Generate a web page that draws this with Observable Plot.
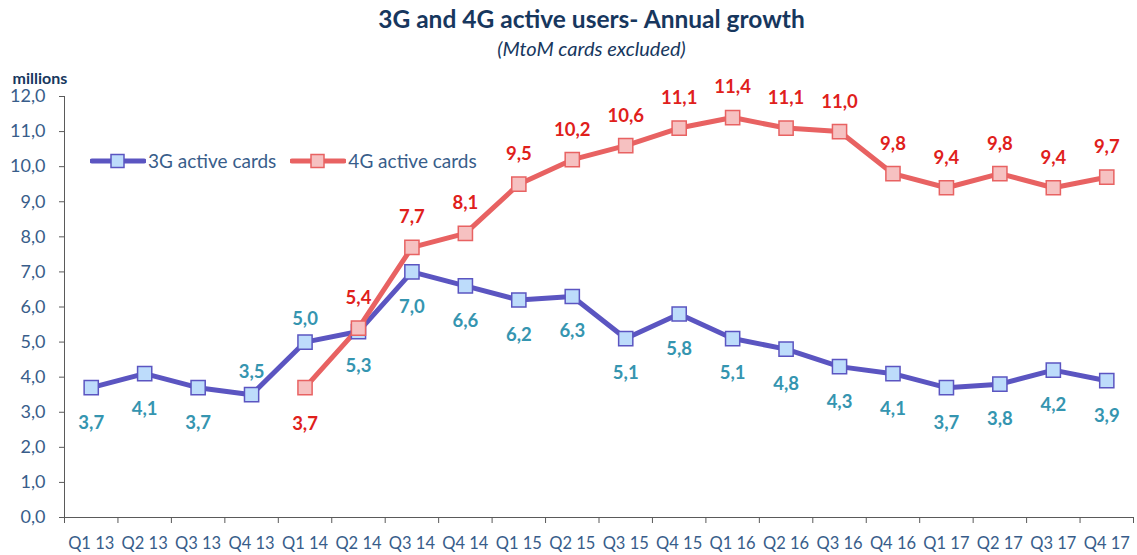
<!DOCTYPE html>
<html>
<head>
<meta charset="utf-8">
<script src="https://cdn.jsdelivr.net/npm/d3@7"></script>
<script src="https://cdn.jsdelivr.net/npm/@observablehq/plot@0.6"></script>
<style>
  body { margin: 0; background: #fff; font-family: Lato, "Open Sans", sans-serif; }
  #wrap { width: 1137px; }
  #head { height: 62px; text-align: center; color: #17375e; position: relative; }
  #title { position: absolute; left: 46px; right: 0; top: 4px; font-weight: bold; font-size: 24.5px; line-height: 30px; }
  #sub { position: absolute; left: 46px; right: 0; top: 36px; font-style: italic; font-size: 20px; line-height: 24px; }
  #chart { position: relative; height: 493px; }
  #legend { position: absolute; left: 90px; top: 87px; display: flex; align-items: center; font-size: 19px; color: #385d8a; }
  .item { display: flex; align-items: center; }
  .item svg { margin-right: 2px; }
</style>
</head>
<body>
<div id="wrap">
  <div id="head">
    <div id="title">3G and 4G active users- Annual growth</div>
    <div id="sub">(MtoM cards excluded)</div>
  </div>
  <div id="chart"></div>
</div>
<script>
const quarters = ["Q1 13","Q2 13","Q3 13","Q4 13","Q1 14","Q2 14","Q3 14","Q4 14","Q1 15","Q2 15",
                  "Q3 15","Q4 15","Q1 16","Q2 16","Q3 16","Q4 16","Q1 17","Q2 17","Q3 17","Q4 17"];
const active3G = [3.7, 4.1, 3.7, 3.5, 5.0, 5.3, 7.0, 6.6, 6.2, 6.3, 5.1, 5.8, 5.1, 4.8, 4.3, 4.1, 3.7, 3.8, 4.2, 3.9];
const quarters4G = quarters.slice(4);
const active4G = [3.7, 5.4, 7.7, 8.1, 9.5, 10.2, 10.6, 11.1, 11.4, 11.1, 11.0, 9.8, 9.4, 9.8, 9.4, 9.7];
const labelsAbove3G = ["Q4 13", "Q1 14"];
const labelsBelow4G = ["Q1 14"];
const yTicks = [0,1,2,3,4,5,6,7,8,9,10,11,12];
const seriesNames = ["3G active cards", "4G active cards"];

const c3 = {line: "#5b55c1", fill: "#bddcfb", label: "#3595b0"};
const c4 = {line: "#e86262", fill: "#f6c1c1", label: "#e0201b"};
const tickColor = "#385d8a";
const axisGray = "#5a5a5a";

const rows3 = quarters.map((q, i) => ({q, i, v: active3G[i]}));
const rows4 = quarters4G.map((q, j) => ({q, i: quarters.indexOf(q), v: active4G[j]}));
const fmt = v => v.toFixed(1).replace(".", ",");
const bounds = d3.range(quarters.length + 1).map(k => k - 0.5);

const labelFont = {fontSize: 18.5, fontWeight: "bold"};

const plot = Plot.plot({
  width: 1137,
  height: 493,
  marginLeft: 64,
  marginRight: 4,
  marginTop: 34,
  marginBottom: 38,
  style: {fontFamily: "Lato, 'Open Sans', sans-serif", background: "#fff", overflow: "visible"},
  x: {type: "linear", domain: [-0.5, quarters.length - 0.5]},
  y: {domain: [0, 12]},
  marks: [
    Plot.ruleX([-0.5], {y1: 0, y2: 12, stroke: axisGray}),
    Plot.axisY(yTicks, {tickSize: 5, tickFormat: () => "", stroke: axisGray, label: null}),
    Plot.axisY(yTicks, {tickSize: 0, tickPadding: 19, tickFormat: fmt, fill: tickColor, fontSize: 18, label: null}),
    Plot.ruleY([0], {stroke: axisGray}),
    Plot.axisX(bounds, {tickSize: 6, tickFormat: () => "", stroke: axisGray, label: null}),
    Plot.axisX(d3.range(quarters.length), {tickSize: 0, tickPadding: 20, tickFormat: i => quarters[i], fill: tickColor, fontSize: 16.5, label: null}),
    Plot.text(["millions"], {frameAnchor: "top-left", lineAnchor: "middle", dx: -52, dy: -18, textAnchor: "start", fill: "#17375e", fontWeight: "bold", fontSize: 16}),
    Plot.line(rows3, {x: "i", y: "v", stroke: c3.line, strokeWidth: 5}),
    Plot.line(rows4, {x: "i", y: "v", stroke: c4.line, strokeWidth: 5}),
    Plot.dot(rows3, {x: "i", y: "v", symbol: "square", r: 8, fill: c3.fill, stroke: c3.line, strokeWidth: 1.5}),
    Plot.dot(rows4, {x: "i", y: "v", symbol: "square", r: 8, fill: c4.fill, stroke: c4.line, strokeWidth: 1.5}),
    Plot.text(rows3.filter(d => !labelsAbove3G.includes(d.q)), {x: "i", y: "v", text: d => fmt(d.v), dy: 35, fill: c3.label, ...labelFont}),
    Plot.text(rows3.filter(d => labelsAbove3G.includes(d.q)), {x: "i", y: "v", text: d => fmt(d.v), dy: -23, fill: c3.label, ...labelFont}),
    Plot.text(rows4.filter(d => !labelsBelow4G.includes(d.q)), {x: "i", y: "v", text: d => fmt(d.v), dy: -30, fill: c4.label, ...labelFont}),
    Plot.text(rows4.filter(d => labelsBelow4G.includes(d.q)), {x: "i", y: "v", text: d => fmt(d.v), dy: 36, fill: c4.label, ...labelFont})
  ]
});
const chart = document.getElementById("chart");
chart.appendChild(plot);

const legend = document.createElement("div");
legend.id = "legend";
[[seriesNames[0], c3], [seriesNames[1], c4]].forEach(([name, c], k) => {
  const item = document.createElement("div");
  item.className = "item";
  item.style.marginRight = k === 0 ? "14px" : "0";
  item.innerHTML = `<svg width="56" height="16"><line x1="2" y1="8" x2="54" y2="8" stroke="${c.line}" stroke-width="5" stroke-linecap="round"/><rect x="21" y="1.5" width="13" height="13" fill="${c.fill}" stroke="${c.line}" stroke-width="1.5"/></svg><span>${name}</span>`;
  legend.appendChild(item);
});
chart.appendChild(legend);
</script>
</body>
</html>
